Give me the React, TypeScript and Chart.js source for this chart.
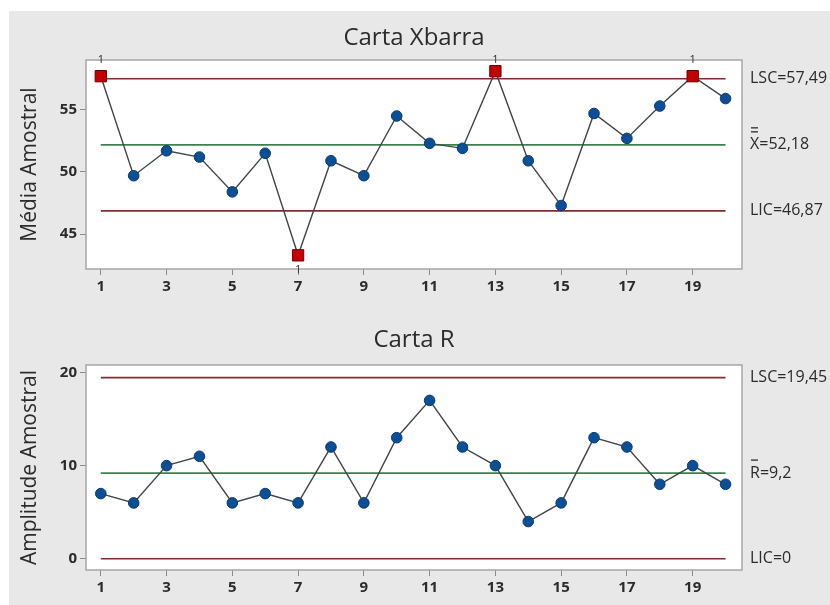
import React, { useEffect, useRef } from "react";
import { Chart, registerables } from "chart.js";

Chart.register(...registerables);

// ---------- data ----------
const samples = [1, 2, 3, 4, 5, 6, 7, 8, 9, 10, 11, 12, 13, 14, 15, 16, 17, 18, 19, 20];
const xbarValues = [57.7, 49.7, 51.7, 51.2, 48.4, 51.5, 43.3, 50.9, 49.7, 54.5, 52.3, 51.9, 58.1, 50.9, 47.3, 54.7, 52.7, 55.3, 57.7, 55.9];
const rangeValues = [7, 6, 10, 11, 6, 7, 6, 12, 6, 13, 17, 12, 10, 4, 6, 13, 12, 8, 10, 8];

const xbarLimits = { lsc: 57.49, cl: 52.18, lic: 46.87 };
const rLimits = { lsc: 19.45, cl: 9.2, lic: 0 };

const xbarLabels = { lsc: "LSC=57,49", cl: "X=52,18", bars: 2, lic: "LIC=46,87" };
const rLabels = { lsc: "LSC=19,45", cl: "R=9,2", bars: 1, lic: "LIC=0" };

const xTicks = [1, 3, 5, 7, 9, 11, 13, 15, 17, 19];
const xbarTicks = [45, 50, 55];
const rTicks = [0, 10, 20];

const xRange = { min: 0.55, max: 20.5 };
const xbarRange = { min: 42.2, max: 59.0 };
const rRange = { min: -1.2, max: 20.8 };

// ---------- styling ----------
const FONT = "'Open Sans', 'DejaVu Sans', sans-serif";
const TEXT = "#2b2b2b";
const LIMIT = "#7d2f2f";
const CENTER = "#3f8050";
const BLUE = "#0c4f94";
const BLUE_EDGE = "#0a3a70";
const RED = "#c40000";
const RED_EDGE = "#6e0000";

type Cfg = {
  title: string;
  yTitle: string;
  values: number[];
  limits: { lsc: number; cl: number; lic: number };
  labels: { lsc: string; cl: string; bars: number; lic: string };
  yTicks: number[];
  yRange: { min: number; max: number };
  height: number;
  padTop: number;
  xAxisHeight: number;
  titleBaseline: number;
};

const decorPlugin = {
  id: "spcDecor",
  beforeDraw(chart: any) {
    const { ctx, chartArea: a } = chart;
    ctx.save();
    ctx.fillStyle = "#ffffff";
    ctx.fillRect(a.left, a.top, a.right - a.left, a.bottom - a.top);
    ctx.restore();
  },
  beforeDatasetsDraw(chart: any) {
    const { ctx, chartArea: a } = chart;
    ctx.save();
    ctx.strokeStyle = "#a6a6a6";
    ctx.lineWidth = 1.5;
    ctx.strokeRect(a.left, a.top, a.right - a.left, a.bottom - a.top);
    ctx.restore();
  },
  afterDraw(chart: any) {
    const cfg: Cfg = chart.options.plugins.spcDecor.cfg;
    const { ctx, chartArea: a } = chart;
    const ys = chart.scales.y;
    const xs = chart.scales.x;
    ctx.save();
    ctx.fillStyle = TEXT;
    // title
    ctx.font = `24px ${FONT}`;
    ctx.textAlign = "center";
    ctx.textBaseline = "alphabetic";
    ctx.fillText(cfg.title, (a.left + a.right) / 2, cfg.titleBaseline);
    // y title
    ctx.save();
    ctx.translate(30, (a.top + a.bottom) / 2);
    ctx.rotate(-Math.PI / 2);
    ctx.font = `21px ${FONT}`;
    ctx.textAlign = "center";
    ctx.textBaseline = "middle";
    ctx.fillText(cfg.yTitle, 0, 0);
    ctx.restore();
    // right labels
    ctx.font = `16px ${FONT}`;
    ctx.textAlign = "left";
    ctx.textBaseline = "middle";
    const lx = 750;
    ctx.fillText(cfg.labels.lsc, lx, ys.getPixelForValue(cfg.limits.lsc));
    const cy = ys.getPixelForValue(cfg.limits.cl);
    ctx.fillText(cfg.labels.cl, lx, cy);
    // bar(s) above the center-line symbol
    ctx.strokeStyle = TEXT;
    ctx.lineWidth = 1.3;
    for (let b = 0; b < cfg.labels.bars; b++) {
      const by = cy - 13 - b * 4;
      ctx.beginPath();
      ctx.moveTo(lx + 1, by);
      ctx.lineTo(lx + 8, by);
      ctx.stroke();
    }
    ctx.fillText(cfg.labels.lic, lx, ys.getPixelForValue(cfg.limits.lic));
    // "1" test markers for points out of limits
    ctx.font = `11px ${FONT}`;
    ctx.textAlign = "center";
    cfg.values.forEach((v, i) => {
      const px = xs.getPixelForValue(samples[i]);
      if (v > cfg.limits.lsc) {
        ctx.textBaseline = "alphabetic";
        ctx.fillText("1", px, a.top + 3);
      } else if (v < cfg.limits.lic) {
        ctx.textBaseline = "top";
        ctx.fillText("1", px, a.bottom - 5);
      }
    });
    ctx.restore();
  },
};

function buildConfig(cfg: Cfg): any {
  const out = cfg.values.map((v) => v > cfg.limits.lsc || v < cfg.limits.lic);
  const first = samples[0];
  const last = samples[samples.length - 1];
  const hline = (val: number, color: string) => ({
    data: [
      { x: first, y: val },
      { x: last, y: val },
    ],
    borderColor: color,
    borderWidth: 1.6,
    pointRadius: 0,
    fill: false,
  });
  return {
    type: "line",
    data: {
      datasets: [
        {
          data: samples.map((x, i) => ({ x, y: cfg.values[i] })),
          borderColor: "#3e454b",
          borderWidth: 1.4,
          pointStyle: out.map((o) => (o ? "rect" : "circle")),
          pointRadius: out.map((o) => (o ? 8 : 5.3)),
          pointBackgroundColor: out.map((o) => (o ? RED : BLUE)),
          pointBorderColor: out.map((o) => (o ? RED_EDGE : BLUE_EDGE)),
          pointBorderWidth: 1,
          fill: false,
        },
        hline(cfg.limits.lsc, LIMIT),
        hline(cfg.limits.cl, CENTER),
        hline(cfg.limits.lic, LIMIT),
      ],
    },
    options: {
      responsive: false,
      animation: false,
      layout: { padding: { top: cfg.padTop, right: 88, left: 0, bottom: 0 } },
      plugins: {
        legend: { display: false },
        tooltip: { enabled: false },
        title: { display: false },
        spcDecor: { cfg },
      },
      scales: {
        x: {
          type: "linear",
          min: xRange.min,
          max: xRange.max,
          afterBuildTicks: (s: any) => {
            s.ticks = xTicks.map((v) => ({ value: v }));
          },
          afterFit: (s: any) => {
            s.height = cfg.xAxisHeight;
          },
          grid: { display: true, drawOnChartArea: false, drawTicks: true, tickLength: 6, color: "#8a8a8a" },
          border: { display: false },
          ticks: {
            autoSkip: false,
            maxRotation: 0,
            padding: 3,
            color: TEXT,
            font: { family: FONT, size: 15, weight: "bold" },
            callback: (v: any) => String(v),
          },
        },
        y: {
          type: "linear",
          min: cfg.yRange.min,
          max: cfg.yRange.max,
          afterBuildTicks: (s: any) => {
            s.ticks = cfg.yTicks.map((v) => ({ value: v }));
          },
          afterFit: (s: any) => {
            s.width = 86;
          },
          grid: { display: true, drawOnChartArea: false, drawTicks: true, tickLength: 6, color: "#8a8a8a" },
          border: { display: false },
          ticks: {
            padding: 3,
            color: TEXT,
            font: { family: FONT, size: 15, weight: "bold" },
            callback: (v: any) => String(v),
          },
        },
      },
    },
    plugins: [decorPlugin],
  };
}

function ControlChart({ cfg }: { cfg: Cfg }) {
  const ref = useRef<HTMLCanvasElement | null>(null);
  useEffect(() => {
    if (!ref.current) return;
    const chart = new Chart(ref.current, buildConfig(cfg));
    return () => chart.destroy();
  }, [cfg]);
  return <canvas ref={ref} width={830} height={cfg.height} style={{ display: "block", width: 830, height: cfg.height }} />;
}

const topCfg: Cfg = {
  title: "Carta Xbarra",
  yTitle: "Média Amostral",
  values: xbarValues,
  limits: xbarLimits,
  labels: xbarLabels,
  yTicks: xbarTicks,
  yRange: xbarRange,
  height: 300,
  padTop: 60,
  xAxisHeight: 31,
  titleBaseline: 45,
};

const bottomCfg: Cfg = {
  title: "Carta R",
  yTitle: "Amplitude Amostral",
  values: rangeValues,
  limits: rLimits,
  labels: rLabels,
  yTicks: rTicks,
  yRange: rRange,
  height: 305,
  padTop: 65,
  xAxisHeight: 35,
  titleBaseline: 47,
};

export default function App() {
  return (
    <div style={{ position: "absolute", left: 0, top: 0, width: 830, height: 605, background: "#ffffff", overflow: "hidden" }}>
      <div style={{ position: "absolute", left: 9, top: 11, right: 0, bottom: 0, background: "#e8e8e8" }} />
      <div style={{ position: "absolute", left: 0, top: 0 }}>
        <ControlChart cfg={topCfg} />
      </div>
      <div style={{ position: "absolute", left: 0, top: 300 }}>
        <ControlChart cfg={bottomCfg} />
      </div>
    </div>
  );
}
